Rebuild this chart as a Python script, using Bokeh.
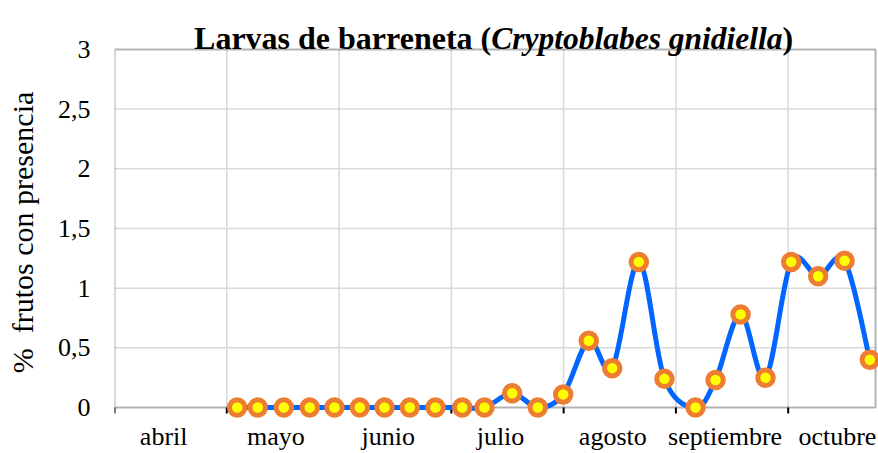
from bokeh.plotting import figure
from bokeh.models import Range1d, FixedTicker, Label, BoxAnnotation
from bokeh.embed import file_html
from bokeh.resources import INLINE

# ---------------- data ----------------
meses = ["abril", "mayo", "junio", "julio", "agosto", "septiembre", "octubre"]
# sampling dates, expressed in months elapsed since 1 April
x_mes = [1.093, 1.276, 1.508, 1.739, 1.959, 2.185, 2.405, 2.630, 2.859,
         3.097, 3.295, 3.542, 3.770, 3.996, 4.224, 4.433, 4.670, 4.898,
         5.175, 5.353, 5.576, 5.798, 6.027, 6.267, 6.502, 6.727]
# % fruits with larvae
pct = [0, 0, 0, 0, 0, 0, 0, 0, 0,
       0, 0, 0.12, 0, 0.11, 0.56, 0.33, 1.22, 0.24,
       0, 0.23, 0.78, 0.25, 1.22, 1.10, 1.23, 0.40]
y_ticks = [0, 0.5, 1, 1.5, 2, 2.5, 3]
titulo = "Larvas de barreneta ("
especie = "Cryptoblabes gnidiella"
cierre = ")"
y_titulo = "%\u00a0\u00a0frutos con presencia"

# ---------------- style ----------------
FONT = "Liberation Serif"
X_AXIS_END = 6.778      # right border of plot area (months)
LABEL_SHIFT = 0.438     # month labels sit a bit left of mid-month
GRID = "#d9d9d9"
NBSP_PAD = "\u00a0" * 6  # nudges the rotated y title down (centre of frame is higher)

p = figure(width=878, height=453, output_backend="svg", toolbar_location=None,
           x_range=Range1d(0, 6.8044), y_range=Range1d(-0.1003, 3.4095),
           min_border_left=114, min_border_right=0,
           min_border_top=0, min_border_bottom=33)
p.outline_line_color = None
p.grid.visible = False
p.background_fill_color = "white"
p.border_fill_color = "white"

n_mes = len(meses)
bordes = list(range(n_mes))                     # month boundaries
lab_pos = [b + LABEL_SHIFT for b in bordes]

# gridlines
gx = bordes[1:]
p.segment(x0=gx, y0=[y_ticks[0]] * len(gx), x1=gx, y1=[y_ticks[-1]] * len(gx),
          line_color=GRID, line_width=1.5, level="underlay")
gy = y_ticks[1:-1]
p.segment(x0=[0] * len(gy), y0=gy, x1=[X_AXIS_END] * len(gy), y1=gy,
          line_color=GRID, line_width=1.5, level="underlay")

# plot-area border
box = BoxAnnotation(left=0, right=X_AXIS_END, bottom=y_ticks[0], top=y_ticks[-1],
                    fill_alpha=0, line_color="black", line_width=2, level="underlay")
p.add_layout(box)

# tick marks under the x axis at month boundaries
p.segment(x0=bordes, y0=[0] * n_mes, x1=bordes, y1=[-0.05] * n_mes,
          line_color="black", line_width=2)

# smoothed line (Excel-style cubic Bezier through the points)
n = len(x_mes)
x0, y0, x1, y1, cx0, cy0, cx1, cy1 = ([] for _ in range(8))
for i in range(n - 1):
    xa, ya = (x_mes[i - 1], pct[i - 1]) if i > 0 else (x_mes[i], pct[i])
    xd, yd = (x_mes[i + 2], pct[i + 2]) if i + 2 < n else (x_mes[i + 1], pct[i + 1])
    x0.append(x_mes[i]); y0.append(pct[i])
    x1.append(x_mes[i + 1]); y1.append(pct[i + 1])
    cx0.append(x_mes[i] + (x_mes[i + 1] - xa) / 6)
    cy0.append(pct[i] + (pct[i + 1] - ya) / 6)
    cx1.append(x_mes[i + 1] - (xd - x_mes[i]) / 6)
    cy1.append(pct[i + 1] - (yd - pct[i]) / 6)
p.bezier(x0=x0, y0=y0, x1=x1, y1=y1, cx0=cx0, cy0=cy0, cx1=cx1, cy1=cy1,
         line_color="#0066ff", line_width=5, line_cap="round")

p.scatter(x_mes, pct, marker="circle", size=15.5, fill_color="#ffff00",
          line_color="#ed7d31", line_width=5)

# x axis (labels only)
xa_ = p.xaxis[0]
xa_.ticker = FixedTicker(ticks=lab_pos, minor_ticks=[])
xa_.major_label_overrides = {pos: m for pos, m in zip(lab_pos, meses)}
xa_.axis_line_color = None
xa_.major_tick_line_color = None
xa_.minor_tick_line_color = None
xa_.major_tick_out = 0
xa_.major_tick_in = 0
xa_.major_label_standoff = 2
xa_.major_label_text_font = FONT
xa_.major_label_text_font_size = "26px"
xa_.major_label_text_color = "black"

# y axis
ya_ = p.yaxis[0]
ya_.ticker = FixedTicker(ticks=y_ticks, minor_ticks=[])
ya_.bounds = (y_ticks[0], y_ticks[-1])
ya_.major_label_overrides = {t: str(t).replace(".", ",") for t in y_ticks}
ya_.axis_line_color = None
ya_.major_tick_line_color = None
ya_.minor_tick_line_color = None
ya_.major_tick_out = 0
ya_.major_tick_in = 0
ya_.major_label_standoff = 24
ya_.major_label_text_font = FONT
ya_.major_label_text_font_size = "26px"
ya_.major_label_text_color = "black"
ya_.axis_label = y_titulo + NBSP_PAD
ya_.axis_label_text_font = FONT
ya_.axis_label_text_font_size = "30px"
ya_.axis_label_text_font_style = "normal"
ya_.axis_label_text_color = "black"
ya_.axis_label_standoff = 16

# title in three pieces (bold + bold italic + bold)
TY = 3.092
TX = 3.355
TX_CLOSE = 5.950
p.add_layout(Label(x=TX, y=TY, text=titulo, text_align="right", text_baseline="alphabetic",
                   text_font=FONT, text_font_style="bold", text_font_size="32px",
                   text_color="black"))
p.add_layout(Label(x=TX, y=TY, text=especie, text_align="left", text_baseline="alphabetic",
                   text_font=FONT, text_font_style="bold italic", text_font_size="31.5px",
                   text_color="black"))
p.add_layout(Label(x=TX_CLOSE, y=TY, text=cierre, text_align="left", text_baseline="alphabetic",
                   text_font=FONT, text_font_style="bold", text_font_size="32px",
                   text_color="black"))

open("out.html", "w").write(file_html(p, INLINE))
